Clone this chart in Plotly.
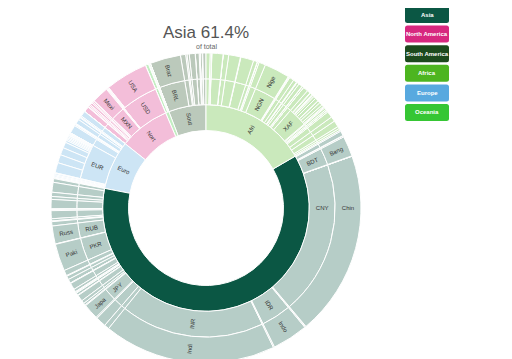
import plotly.graph_objects as go

# ---------------- data (clockwise order as drawn, starting at 12 o'clock) ----------------
CONTINENTS = ["Africa", "Asia", "Europe", "North America", "Oceania", "South America"]
LEGEND_ORDER = ["Asia", "North America", "South America", "Africa", "Europe", "Oceania"]
HIGHLIGHT = "Asia"
TITLE_SUB = "of total"

AFRICA_CURRENCY = ["AOA", "BIF", "BWP", "CDF", "CVE", "DJF", "DZD", "EGP", "ERN", "ETB", "GHS", "GMD", "GNF", "KES",
                   "NGN",
                   "LRD", "LSL", "LYD", "MAD", "MGA", "MRU", "MUR", "MWK", "MZN", "NAD", "RWF", "SCR", "SDG",
                   "XAF", "XAF", "XAF", "XAF", "XAF", "XAF", "XAF", "XAF", "XAF", "XAF", "XAF", "XAF", "XAF", "XAF",
                   "SLL", "SOS", "SSP", "STN", "SZL", "TND", "TZS", "UGX", "ZAR", "ZMW", "ZWL"]
AFRICA_COUNTRY = ["Angola", "Burundi", "Botswana", "DR Congo", "Cabo Verde", "Djibouti", "Algeria", "Egypt", "Eritrea",
                  "Ethiopia", "Ghana", "Gambia", "Guinea", "Kenya",
                  "Nigeria",
                  "Liberia", "Lesotho", "Libya", "Morocco", "Madagascar", "Mauritania", "Mauritius", "Malawi",
                  "Mozambique", "Namibia", "Rwanda", "Seychelles", "Sudan",
                  "Cameroon", "Central African Republic", "Chad", "Congo", "Equatorial Guinea", "Gabon", "Benin",
                  "Burkina Faso", "Côte d'Ivoire", "Guinea-Bissau", "Mali", "Niger", "Senegal", "Togo",
                  "Sierra Leone", "Somalia", "South Sudan", "São Tomé and Príncipe", "Eswatini", "Tunisia",
                  "Tanzania", "Uganda", "South Africa", "Zambia", "Zimbabwe"]
AFRICA_VALUE = [33, 12, 2.4, 90, 0.6, 1, 44, 95, 3.5, 105, 31, 2.4, 13, 54,
                206,
                5, 2.1, 6.9, 37, 28, 4.6, 1.3, 19, 31, 2.5, 13, 0.1, 40,
                27, 4.8, 16, 5.5, 1.4, 2.2, 12, 21, 26, 2, 20, 24, 17, 8,
                8, 16, 11, 0.2, 1.2, 12, 50, 40, 52, 18, 15]

ASIA_CURRENCY = ["AED", "AFN", "AMD", "AZN", "BDT", "BHD", "BND", "BTN", "CNY", "GEL", "HKD", "IDR", "ILS", "INR",
                 "IQD", "IRR", "JOD", "JPY", "KGS", "KHR", "KPW", "KRW", "KWD", "KZT", "LAK", "LBP", "LKR", "MMK",
                 "MNT", "MVR", "MYR", "NPR", "OMR", "PHP", "PKR", "QAR", "RUB", "SAR", "SGD", "SYP", "THB", "TJS",
                 "TMT", "TRY", "TWD", "UZS", "VND", "YER"]
ASIA_COUNTRY = ["United Arab Emirates", "Afghanistan", "Armenia", "Azerbaijan", "Bangladesh", "Bahrain", "Brunei",
                "Bhutan", "China", "Georgia", "Hong Kong", "Indonesia", "Israel", "India", "Iraq", "Iran", "Jordan",
                "Japan", "Kyrgyzstan", "Cambodia", "North Korea", "South Korea", "Kuwait", "Kazakhstan", "Laos",
                "Lebanon", "Sri Lanka", "Myanmar", "Mongolia", "Maldives", "Malaysia", "Nepal", "Oman",
                "Philippines", "Pakistan", "Qatar", "Russia", "Saudi Arabia", "Singapore", "Syria", "Thailand",
                "Tajikistan", "Turkmenistan", "Turkey", "Taiwan", "Uzbekistan", "Vietnam", "Yemen"]
ASIA_VALUE = [10, 39, 3, 10, 165, 1.7, 0.4, 0.8, 1500, 3.7, 7.5, 290, 9.2, 1400,
              40, 84, 10, 126, 6.5, 16.7, 25.8, 51.8, 4.3, 18.8, 7.3, 6.8, 21.9, 54.4,
              3.3, 0.5, 32.4, 29.1, 5.1, 45, 221, 2.9, 146, 35, 5.7, 17.5, 65, 9.5,
              6, 75, 23.8, 34, 80, 30]

EUROPE_CURRENCY = ["ALL", "BAM", "BGN", "BYN", "CHF", "CZK", "DKK",
                   "EUR", "EUR", "EUR", "EUR", "EUR", "EUR", "EUR", "EUR", "EUR", "EUR", "EUR", "EUR", "EUR", "EUR",
                   "EUR", "EUR", "EUR", "EUR", "EUR",
                   "GBP", "HUF", "ISK", "MDL", "MKD", "NOK", "PLN", "RON", "RSD", "SEK", "UAH"]
EUROPE_COUNTRY = ["Albania", "Bosnia and Herzegovina", "Bulgaria", "Belarus", "Switzerland", "Czechia", "Denmark",
                  "Germany", "France", "Italy", "Spain", "Netherlands", "Belgium", "Greece", "Portugal", "Austria",
                  "Finland", "Slovakia", "Ireland", "Lithuania", "Slovenia", "Latvia", "Estonia", "Cyprus",
                  "Luxembourg", "Malta",
                  "United Kingdom", "Hungary", "Iceland", "Moldova", "North Macedonia", "Norway", "Poland",
                  "Romania", "Serbia", "Sweden", "Ukraine"]
EUROPE_VALUE = [2.9, 3.3, 6.9, 9.4, 8.7, 10.7, 5.8,
                83, 67, 60, 47, 17.4, 11.5, 10.7, 10.3, 8.9, 5.5, 5.5, 5, 2.8, 2.1, 1.9, 1.3, 0.9, 0.6, 0.5,
                67, 9.7, 0.4, 2.6, 2.1, 5.4, 38, 19, 6.9, 10.4, 44]

NAMERICA_CURRENCY = ["BBD", "BSD", "BZD", "CAD", "CRC", "CUP", "DOP", "GTQ", "HNL", "HTG", "JMD", "MXN",
                     "NIO", "PAB", "TTD", "USD", "USD", "USD", "XCD"]
NAMERICA_COUNTRY = ["Barbados", "Bahamas", "Belize", "Canada", "Costa Rica", "Cuba", "Dominican Republic",
                    "Guatemala", "Honduras", "Haiti", "Jamaica", "Mexico", "Nicaragua", "Panama",
                    "Trinidad and Tobago", "El Salvador", "Puerto Rico", "USA", "Saint Lucia"]
NAMERICA_VALUE = [0.3, 0.4, 0.4, 44, 5.1, 11.3, 10.8, 17.9, 9.9, 11.4, 3, 135,
                  6.6, 4.3, 1.4, 6.5, 3.2, 345, 0.2]

OCEANIA_CURRENCY = ["AUD", "FJD", "NZD", "PGK", "SBD", "TOP", "VUV", "WST"]
OCEANIA_COUNTRY = ["Australia", "Fiji", "New Zealand", "Papua New Guinea", "Solomon Islands", "Tonga", "Vanuatu",
                   "Samoa"]
OCEANIA_VALUE = [25.5, 0.9, 5, 9, 0.7, 0.1, 0.3, 0.2]

SAMERICA_CURRENCY = ["BRL", "ARS", "BOB", "CLP", "COP", "GYD", "PEN", "PYG", "SRD", "USD", "UYU", "VES"]
SAMERICA_COUNTRY = ["Brazil", "Argentina", "Bolivia", "Chile", "Colombia", "Guyana", "Peru", "Paraguay",
                    "Suriname", "Ecuador", "Uruguay", "Venezuela"]
SAMERICA_VALUE = [250, 42, 11, 18, 48, 0.8, 31, 7, 0.6, 17, 3.5, 27]

# ---------------- styling ----------------
CONT_COLOR = {"Asia": "#0b5744", "North America": "#d7287f", "South America": "#1c4a1d",
              "Africa": "#4db520", "Europe": "#58a9df", "Oceania": "#36c634"}
FADE = 0.3
MIN_LABEL_DEG = 5.5
PLOTLY_CCW = True   # plotly lays sunburst sectors counterclockwise

OFF = 8            # page body margin around the figure div
W, H = 512, 359
ML, MT = 43, 45
PW = PH = 310
MR, MB = W - ML - PW, H - MT - PH
FONT = "Liberation Sans, Arial, Helvetica, sans-serif"


def px_x(x):   # page pixel -> paper
    return (x - OFF - ML) / PW


def px_y(y):
    return 1 - (y - OFF - MT) / PH


def fade(hexcol, a=FADE):
    h = hexcol.lstrip("#")
    r, g, b = (int(h[i:i + 2], 16) for i in (0, 2, 4))
    f = lambda c: round(a * c + (1 - a) * 255)
    return "#%02x%02x%02x" % (f(r), f(g), f(b))


DATA = {
    "Africa": (AFRICA_CURRENCY, AFRICA_COUNTRY, AFRICA_VALUE),
    "Asia": (ASIA_CURRENCY, ASIA_COUNTRY, ASIA_VALUE),
    "Europe": (EUROPE_CURRENCY, EUROPE_COUNTRY, EUROPE_VALUE),
    "North America": (NAMERICA_CURRENCY, NAMERICA_COUNTRY, NAMERICA_VALUE),
    "Oceania": (OCEANIA_CURRENCY, OCEANIA_COUNTRY, OCEANIA_VALUE),
    "South America": (SAMERICA_CURRENCY, SAMERICA_COUNTRY, SAMERICA_VALUE),
}
GRAND = sum(sum(v[2]) for v in DATA.values())


def deg(v):
    return v / GRAND * 360


# three invisible levels make the central hole
ids = ["root", "ring1", "ring2"]
parents = ["", "root", "ring1"]
labels = ["", "", ""]
values = [0, 0, 0]
colors = ["rgba(255,255,255,0)"] * 3
texts = ["", "", ""]

order = CONTINENTS[::-1] if PLOTLY_CCW else CONTINENTS
for cont in order:
    cur, cty, val = DATA[cont]
    tot = sum(val)
    base = CONT_COLOR[cont]
    ids.append(cont); parents.append("ring2"); labels.append(cont); values.append(0)
    colors.append(base if cont == HIGHLIGHT else fade(base))
    texts.append(cont[:4] if (cont != HIGHLIGHT and deg(tot) >= MIN_LABEL_DEG) else "")
    groups = []
    for c, n, v in zip(cur, cty, val):
        if groups and groups[-1][0] == c:
            groups[-1][1].append((n, v))
        else:
            groups.append((c, [(n, v)]))
    if PLOTLY_CCW:
        groups = [(c, lst[::-1]) for c, lst in groups[::-1]]
    for c, lst in groups:
        cid = cont + "/" + c
        ctot = sum(v for _, v in lst)
        ids.append(cid); parents.append(cont); labels.append(c); values.append(0)
        colors.append(fade(base))
        texts.append(c if deg(ctot) >= MIN_LABEL_DEG else "")
        for n, v in lst:
            ids.append(cid + "/" + n); parents.append(cid); labels.append(n); values.append(v)
            colors.append(fade(base))
            texts.append(n[:4] if deg(v) >= MIN_LABEL_DEG else "")

fig = go.Figure(go.Sunburst(
    ids=ids, labels=labels, parents=parents, values=values,
    branchvalues="remainder", sort=False, rotation=90,
    text=texts, textinfo="text", insidetextorientation="radial",
    textfont=dict(size=6, color="#333333", family=FONT),
    marker=dict(colors=colors, line=dict(color="white", width=1)),
    leaf=dict(opacity=1),
    hoverinfo="label+value",
    domain=dict(x=[0, 1], y=[0, 1]),
))

pct = sum(DATA[HIGHLIGHT][2]) / GRAND * 100
annotations = [
    dict(text=f"{HIGHLIGHT} {pct:.1f}%", x=px_x(206), y=px_y(32.5), xref="paper", yref="paper",
         showarrow=False, xanchor="center", yanchor="middle",
         font=dict(size=17, color="#555555", family=FONT)),
    dict(text=TITLE_SUB, x=px_x(206), y=px_y(46.5), xref="paper", yref="paper",
         showarrow=False, xanchor="center", yanchor="middle",
         font=dict(size=7, color="#666666", family=FONT)),
]
shapes = []
LX0, LX1, LTOP, LSTEP, LH, RAD = 405, 449, 6, 19.6, 17, 2.5
for i, cont in enumerate(LEGEND_ORDER):
    y0p = LTOP + i * LSTEP
    y1p = y0p + LH
    x0, x1 = px_x(LX0), px_x(LX1)
    ya, yb = px_y(y0p), px_y(y1p)  # ya top (larger), yb bottom
    rx, ry = RAD / PW, RAD / PH
    path = (f"M {x0+rx},{ya} L {x1-rx},{ya} Q {x1},{ya} {x1},{ya-ry} L {x1},{yb+ry} Q {x1},{yb} {x1-rx},{yb} "
            f"L {x0+rx},{yb} Q {x0},{yb} {x0},{yb+ry} L {x0},{ya-ry} Q {x0},{ya} {x0+rx},{ya} Z")
    shapes.append(dict(type="path", path=path, xref="paper", yref="paper",
                       fillcolor=CONT_COLOR[cont], line=dict(width=0)))
    annotations.append(dict(text=f"<b>{cont}</b>", x=(x0 + x1) / 2, y=(ya + yb) / 2, xref="paper", yref="paper",
                            showarrow=False, xanchor="center", yanchor="middle",
                            font=dict(size=6, color="white", family=FONT)))

fig.update_layout(
    width=W, height=H,
    margin=dict(l=ML, r=MR, t=MT, b=MB, pad=0),
    paper_bgcolor="white", plot_bgcolor="white",
    uniformtext=dict(minsize=6, mode="show"),
    annotations=annotations, shapes=shapes,
    showlegend=False,
)

fig.write_html("out.html")
